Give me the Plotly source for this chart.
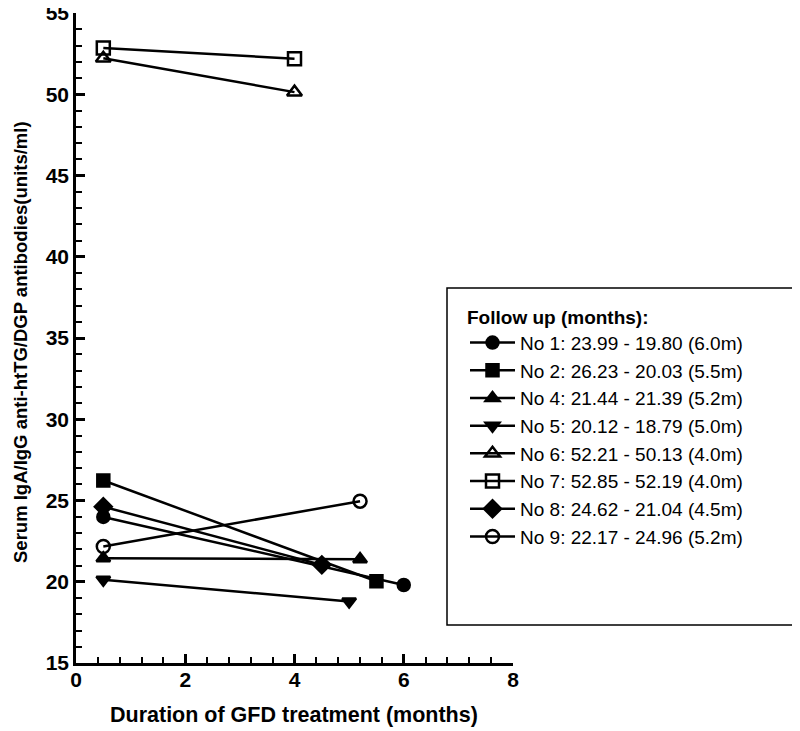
import plotly.graph_objects as go

# Data
names = ["No 1: 23.99 - 19.80 (6.0m)", "No 2: 26.23 - 20.03 (5.5m)", "No 4: 21.44 - 21.39 (5.2m)",
         "No 5: 20.12 - 18.79 (5.0m)", "No 6: 52.21 - 50.13 (4.0m)", "No 7: 52.85 - 52.19 (4.0m)",
         "No 8: 24.62 - 21.04 (4.5m)", "No 9: 22.17 - 24.96 (5.2m)"]
x_start = [0.5, 0.5, 0.5, 0.5, 0.5, 0.5, 0.5, 0.5]
x_end = [6.0, 5.5, 5.2, 5.0, 4.0, 4.0, 4.5, 5.2]
y_start = [23.99, 26.23, 21.44, 20.12, 52.21, 52.85, 24.62, 22.17]
y_end = [19.80, 20.03, 21.39, 18.79, 50.13, 52.19, 21.04, 24.96]
symbols = ["circle", "square", "triangle-up", "triangle-down", "triangle-up-open",
           "square-open", "diamond", "circle-open"]
sizes = [12, 12, 12, 12, 13, 13, 13, 13]

FONT = "Liberation Sans, Arial, sans-serif"

fig = go.Figure()
for i in range(len(names)):
    fig.add_trace(go.Scatter(
        x=[x_start[i], x_end[i]], y=[y_start[i], y_end[i]],
        mode="lines+markers", name=names[i],
        line=dict(color="black", width=2.5),
        marker=dict(symbol=symbols[i], size=sizes[i], color="black",
                    line=dict(color="black", width=2.5)),
        cliponaxis=False,
    ))

# page offset (body margin) compensation
OFF = 8
W, H = 800, 731
L = 76 - OFF
T = 13 - OFF
R = W - (513 - OFF)
B = H - (663 - OFF)
pw, ph = W - L - R, H - T - B

def px_x(p):
    return (p - OFF - L) / pw

def px_y(p):
    return (H - B - (p - OFF)) / ph

fig.add_shape(type="rect", xref="paper", yref="paper",
              x0=px_x(447), x1=px_x(795), y0=px_y(625), y1=px_y(288),
              line=dict(color="black", width=1.5), fillcolor="white", layer="below")

fig.add_annotation(text="<b>Serum IgA/IgG anti-htTG/DGP antibodies(units/ml)</b>",
                   xref="paper", yref="paper", x=px_x(20), y=px_y(342),
                   textangle=-90, showarrow=False, xanchor="center", yanchor="middle",
                   font=dict(size=18.5, family=FONT, color="black"))

fig.add_annotation(text="<b>Duration of GFD treatment (months)</b>",
                   xref="paper", yref="paper", x=px_x(294), y=px_y(715),
                   showarrow=False, xanchor="center", yanchor="middle",
                   font=dict(size=21.5, family=FONT, color="black"))

fig.update_layout(
    width=W, height=H, margin=dict(l=L, r=R, t=T, b=B),
    plot_bgcolor="white", paper_bgcolor="white",
    font=dict(family=FONT, color="black"),
    showlegend=True,
    legend=dict(
        x=px_x(465), y=px_y(299), xanchor="left", yanchor="top",
        bgcolor="rgba(0,0,0,0)", borderwidth=0,
        font=dict(size=19, family=FONT, color="black"),
        title=dict(text="<b>Follow up (months):</b>", font=dict(size=19, family=FONT)),
        itemwidth=45,
    ),
    xaxis=dict(
        range=[0, 8], tickvals=[0, 2, 4, 6, 8], showgrid=False, zeroline=False,
        showline=True, linecolor="black", linewidth=2.5, automargin=False,
        ticks="inside", ticklen=9, tickwidth=2.5, tickcolor="black",
        tickfont=dict(size=21, family=FONT, weight="bold"),
        ticklabeloverflow="allow", ticklabelstandoff=-4,
        minor=dict(dtick=0.4, ticks="inside", ticklen=6, tickwidth=2, tickcolor="black"),
    ),
    yaxis=dict(
        range=[15, 55], tickvals=[15, 20, 25, 30, 35, 40, 45, 50, 55], showgrid=False, zeroline=False,
        showline=True, linecolor="black", linewidth=2.5, automargin=False,
        ticks="inside", ticklen=9, tickwidth=2.5, tickcolor="black",
        tickfont=dict(size=21, family=FONT, weight="bold"),
        ticklabeloverflow="allow",
        minor=dict(dtick=1, ticks="inside", ticklen=6, tickwidth=2, tickcolor="black"),
    ),
)

fig.write_html("out.html")
